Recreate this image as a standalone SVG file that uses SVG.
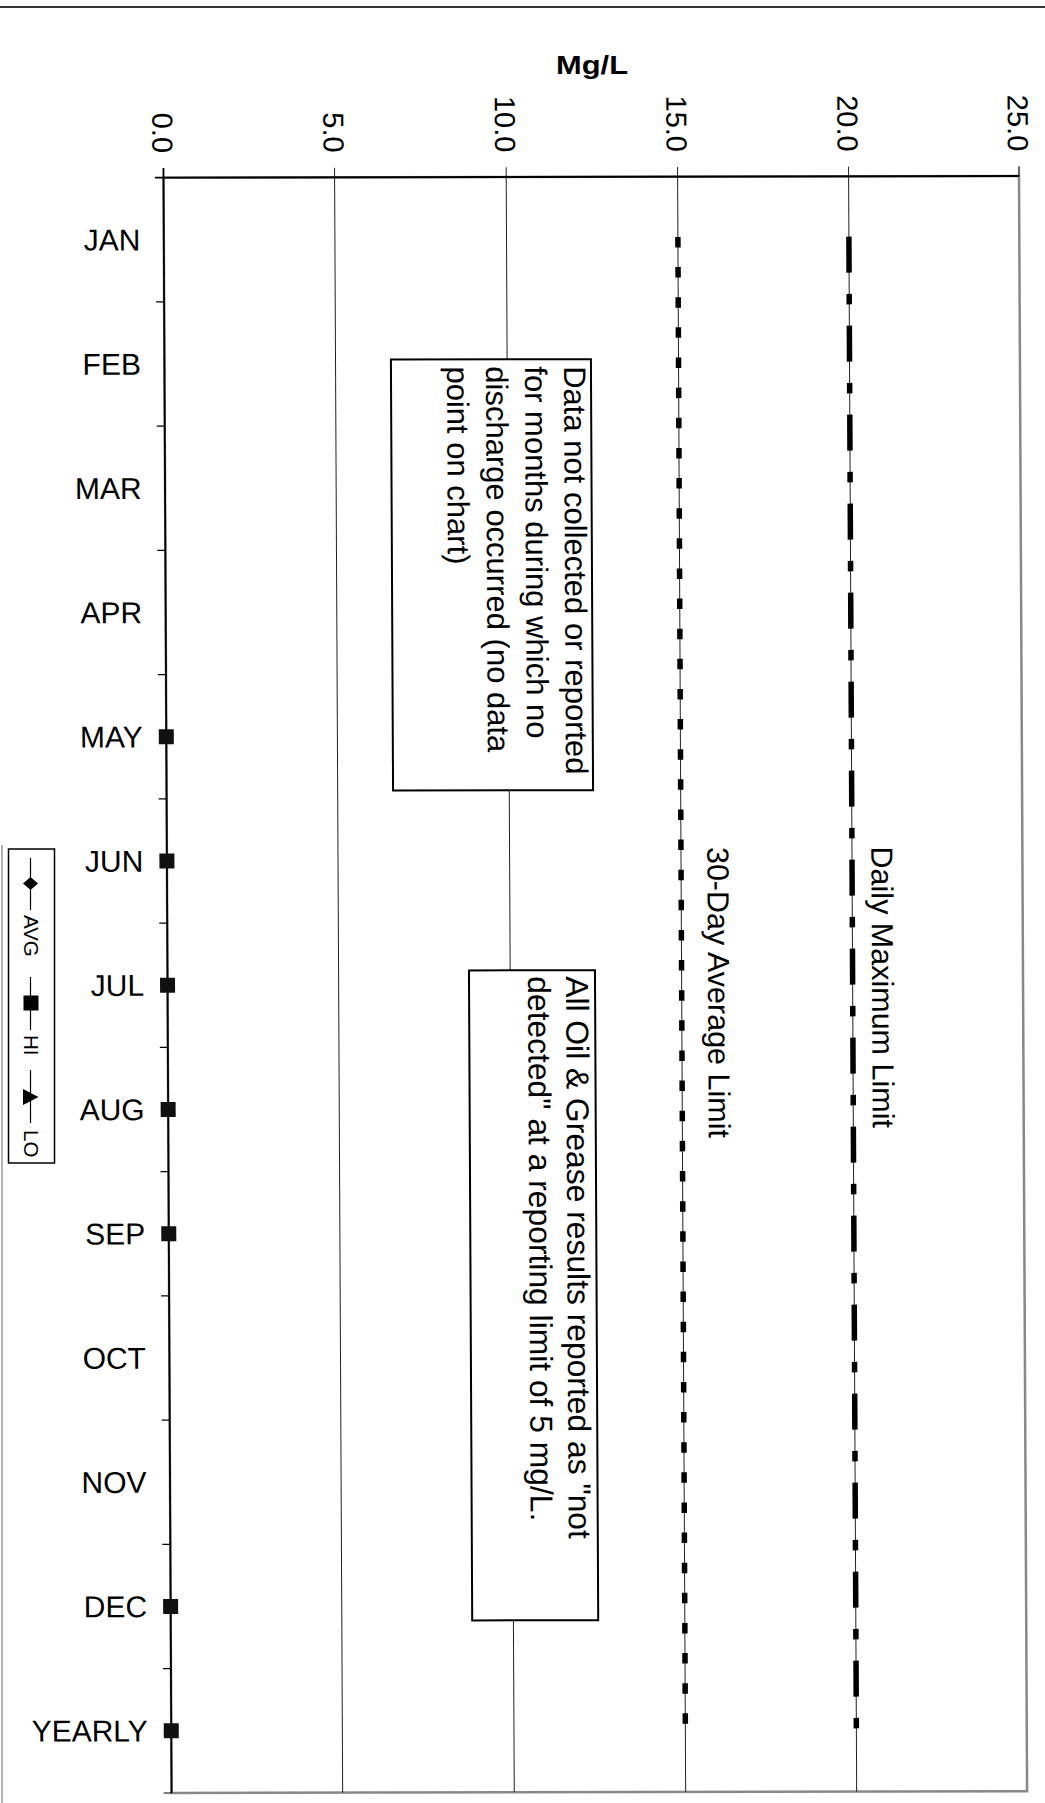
<svg xmlns="http://www.w3.org/2000/svg" width="1045" height="1803" viewBox="0 0 1045 1803">
<style>
.t{font-family:"Liberation Sans",Arial,sans-serif;fill:#000}
.mon{font-size:30px;text-anchor:end}
.tick{font-size:29px;text-anchor:end}
.box{font-size:31px}
.box2{font-size:31.8px}
.lim{font-size:30.5px}
.leg{font-size:20.5px}
.grid{stroke:#222;stroke-width:1}
.ax{stroke:#000;stroke-width:1.8}
.tk{stroke:#000;stroke-width:1.2}
.note{fill:#fff;stroke:#000;stroke-width:2}
.hi{fill:#111}
</style>
<rect width="1045" height="1803" fill="#fff"/>
<line x1="0" y1="7" x2="1045" y2="7" stroke="#333" stroke-width="1.8"/>
<line x1="2" y1="845" x2="2" y2="1803" stroke="#999" stroke-width="1.5"/>
<g id="title"><text class="t" x="592" y="73.5" font-size="26.5" font-weight="bold" text-anchor="middle" textLength="72" lengthAdjust="spacingAndGlyphs">Mg/L</text></g>
<g id="chart" transform="matrix(1 -0.002 0.005 1 -0.889 0.327)">
  <g id="plot-area">
    <rect x="163.5" y="177.7" width="855.5" height="1615.3" fill="#fff" stroke="#888" stroke-width="2.5"/>
    <line class="grid" x1="334.6" y1="168" x2="334.6" y2="1793"/>
    <line class="grid" x1="506.2" y1="168" x2="506.2" y2="1793"/>
    <line class="grid" x1="677.6" y1="168" x2="677.6" y2="1793"/>
    <line class="grid" x1="848.6" y1="168" x2="848.6" y2="1793"/>
    <line x1="1019" y1="168" x2="1019" y2="178" class="tk"/>
    <line class="ax" x1="155" y1="177.7" x2="1019" y2="177.7" stroke-width="2.2"/>
    <line class="ax" x1="163.5" y1="168" x2="163.5" y2="1793"/>
    <g id="cat-ticks" class="tk">
      <line x1="155.5" y1="301.95" x2="163.5" y2="301.95"/>
      <line x1="155.5" y1="426.2" x2="163.5" y2="426.2"/>
      <line x1="155.5" y1="550.45" x2="163.5" y2="550.45"/>
      <line x1="155.5" y1="674.7" x2="163.5" y2="674.7"/>
      <line x1="155.5" y1="798.95" x2="163.5" y2="798.95"/>
      <line x1="155.5" y1="923.2" x2="163.5" y2="923.2"/>
      <line x1="155.5" y1="1047.45" x2="163.5" y2="1047.45"/>
      <line x1="155.5" y1="1171.7" x2="163.5" y2="1171.7"/>
      <line x1="155.5" y1="1295.95" x2="163.5" y2="1295.95"/>
      <line x1="155.5" y1="1420.2" x2="163.5" y2="1420.2"/>
      <line x1="155.5" y1="1544.45" x2="163.5" y2="1544.45"/>
      <line x1="155.5" y1="1668.7" x2="163.5" y2="1668.7"/>
      <line x1="155.5" y1="1793" x2="163.5" y2="1793"/>
    </g>
  </g>
  <g id="value-labels">
    <text class="t tick" transform="translate(152.5,153) rotate(90)">0.0</text>
    <text class="t tick" transform="translate(323.6,153) rotate(90)">5.0</text>
    <text class="t tick" transform="translate(495.2,153) rotate(90)">10.0</text>
    <text class="t tick" transform="translate(666.6,153) rotate(90)">15.0</text>
    <text class="t tick" transform="translate(837.6,153) rotate(90)">20.0</text>
    <text class="t tick" transform="translate(1008,153) rotate(90)">25.0</text>
  </g>
  <g id="month-labels">
    <text class="t mon" x="140" y="250.3">JAN</text>
    <text class="t mon" x="140" y="374.6">FEB</text>
    <text class="t mon" x="140" y="498.8">MAR</text>
    <text class="t mon" x="140" y="623.1">APR</text>
    <text class="t mon" x="140" y="747.3">MAY</text>
    <text class="t mon" x="140" y="871.6">JUN</text>
    <text class="t mon" x="140" y="995.8">JUL</text>
    <text class="t mon" x="140" y="1120.1">AUG</text>
    <text class="t mon" x="140" y="1244.3">SEP</text>
    <text class="t mon" x="140" y="1368.6">OCT</text>
    <text class="t mon" x="140" y="1492.8">NOV</text>
    <text class="t mon" x="140" y="1617.1">DEC</text>
    <text class="t mon" x="140" y="1741.3" font-size="30.5">YEARLY</text>
  </g>
  <g id="connectors">
    <line id="avg-limit" x1="677.6" y1="238" x2="677.6" y2="1731" stroke="#000" stroke-width="5.5" stroke-dasharray="10.5 19.63"/>
    <line id="daily-limit" x1="848.6" y1="238" x2="848.6" y2="1731" stroke="#000" stroke-width="5.5" stroke-dasharray="36 21.25 10.5 21.25"/>
  </g>
  <g id="hi-markers">
    <rect class="hi" x="156" y="729.3" width="15" height="15"/>
    <rect class="hi" x="156" y="853.6" width="15" height="15"/>
    <rect class="hi" x="156" y="977.8" width="15" height="15"/>
    <rect class="hi" x="156" y="1102.1" width="15" height="15"/>
    <rect class="hi" x="156" y="1226.3" width="15" height="15"/>
    <rect class="hi" x="156" y="1599.1" width="15" height="15"/>
    <rect class="hi" x="156" y="1723.3" width="15" height="15"/>
  </g>
  <g id="note-no-data">
    <rect class="note" x="390" y="360" width="200" height="431"/>
    <text class="t box" transform="translate(563,367) rotate(90)">Data not collected or reported</text>
    <text class="t box" transform="translate(524,367) rotate(90)">for months during which no</text>
    <text class="t box" transform="translate(485,367) rotate(90)">discharge occurred (no data</text>
    <text class="t box" transform="translate(446,367) rotate(90)">point on chart)</text>
  </g>
  <g id="note-oil-grease">
    <rect class="note" x="465" y="971" width="126" height="650"/>
    <text class="t box2" transform="translate(562,977) rotate(90)">All Oil &amp; Grease results reported as "not</text>
    <text class="t box2" transform="translate(524,977) rotate(90)">detected" at a reporting limit of 5 mg/L.</text>
  </g>
  <g id="label-daily">
    <text class="t lim" transform="translate(868,848) rotate(90)">Daily Maximum Limit</text>
  </g>
  <g id="label-30day">
    <text class="t lim" transform="translate(704,848) rotate(90)">30-Day Average Limit</text>
  </g>
</g>
<g id="legend">
  <rect x="8.5" y="849" width="46" height="314" fill="#fff" stroke="#000" stroke-width="1.5"/>
  <line x1="30.5" y1="858" x2="30.5" y2="910" stroke="#000" stroke-width="1.2"/>
  <polygon points="30.5,877 38,883.5 30.5,890 23,883.5" fill="#000"/>
  <text class="t leg" transform="translate(23.5,915) rotate(90)">AVG</text>
  <line x1="30.5" y1="977" x2="30.5" y2="1030" stroke="#000" stroke-width="1.2"/>
  <rect x="23.5" y="995.5" width="15" height="15" fill="#000"/>
  <text class="t leg" transform="translate(23.5,1035) rotate(90)">HI</text>
  <line x1="30.5" y1="1070" x2="30.5" y2="1123" stroke="#000" stroke-width="1.2"/>
  <polygon points="38.5,1097 23,1089 23,1105" fill="#000"/>
  <text class="t leg" transform="translate(23.5,1130) rotate(90)">LO</text>
</g>
</svg>
